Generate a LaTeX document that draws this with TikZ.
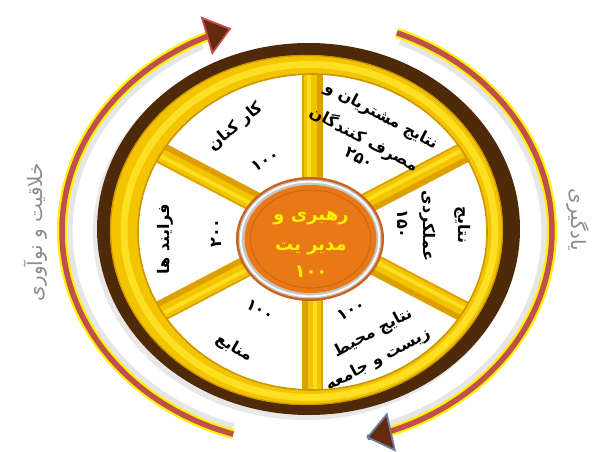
\documentclass[tikz,border=0pt]{standalone}
\usepackage{fontspec}
\usetikzlibrary{arrows.meta}
\TeXXeTstate=1
\newfontfamily\fa[Script=Arabic]{DejaVu Sans}
\definecolor{wbrown}{RGB}{78,42,8}
\definecolor{wgold}{RGB}{243,196,0}
\definecolor{wlight}{RGB}{255,228,40}
\definecolor{wdark}{RGB}{205,150,0}
\definecolor{spokedark}{RGB}{222,160,0}
\definecolor{salmon}{RGB}{192,80,77}
\definecolor{abrown}{RGB}{100,42,12}
\definecolor{slate}{RGB}{110,125,160}
\definecolor{hub}{RGB}{233,120,22}
\definecolor{hubrim}{RGB}{200,100,28}
\definecolor{hubtxt}{RGB}{255,240,0}
\definecolor{txtgray}{RGB}{140,140,140}
\tikzset{
  seg/.style={font=\fa\bfseries\fontsize{16}{18}\selectfont, inner sep=0pt, text=black},
  hubfont/.style={font=\fa\bfseries\fontsize{18}{20}\selectfont, inner sep=0pt, text=hubtxt},
  side/.style={font=\fa\fontsize{20}{22}\selectfont, inner sep=0pt, text=txtgray},
  arcyellow/.style={draw=yellow, line width=10pt},
  arccore/.style={draw=salmon, line width=5.5pt},
  arcshadow/.style={draw=gray, line width=7pt, opacity=.2},
  spokeA/.style={draw=spokedark, line width=21pt},
  spokeB/.style={draw=wgold, line width=13pt},
  spokeC/.style={draw=wlight, line width=4pt, opacity=.8},
}
\begin{document}
\begin{tikzpicture}[x=1pt,y=-1pt]
\useasboundingbox (0,0) rectangle (598,452);
% outer circular arrows
\draw[arcshadow] plot[domain=108:244,samples=120] ({307+238*cos(\x)},{231+206*sin(\x)});
\draw[arcshadow] plot[domain=-67:70,samples=120] ({307+238*cos(\x)},{231+206*sin(\x)});
\draw[arcyellow] plot[domain=107.5:248,samples=120] ({307+245*cos(\x)},{231+213*sin(\x)});
\draw[arccore,-{Triangle[length=26pt,width=40pt,fill=abrown,line width=1.8pt]}] plot[domain=107.5:252,samples=120] ({307+245*cos(\x)},{231+213*sin(\x)});
\draw[arcyellow] plot[domain=-68.5:72,samples=120] ({307+245*cos(\x)},{231+213*sin(\x)});
\draw[arccore] plot[domain=-68.5:72,samples=120] ({307+245*cos(\x)},{231+213*sin(\x)});
\draw[draw=slate,line width=5.5pt,-{Triangle[length=26pt,width=40pt,fill=abrown,line width=1.8pt]}] plot[domain=71:76,samples=20] ({307+245*cos(\x)},{231+213*sin(\x)});
% side labels
\node[side, rotate=90] (creat) at (36,232) {\beginR خلاقیت و نوآوری\endR};
\node[side, rotate=-90] (learn) at (578,220) {\beginR یادگیری\endR};
% wheel shadow and rim
\fill[gray, opacity=.18] (305,233) ellipse [x radius=212, y radius=187];
\fill[wbrown] (308.5,229) ellipse [x radius=211.5, y radius=186];
\fill[white] (312.5,232) ellipse [x radius=176, y radius=160];
% spokes
\foreach \a in {90,270,30,150,210,330}{
  \draw[spokeA] (312,232) -- ({312+182*cos(\a)},{232+165*sin(\a)});
  \draw[spokeB] ({312+2*sin(\a)},{232-2*cos(\a)}) -- ({312+182*cos(\a)+2*sin(\a)},{232+165*sin(\a)-2*cos(\a)});
  \draw[spokeC] ({312+3*sin(\a)},{232-3*cos(\a)}) -- ({312+182*cos(\a)+3*sin(\a)},{232+165*sin(\a)-3*cos(\a)});
}
% segment texts
\node[seg, rotate=40] (kark) at (236,127) {\beginR کار کنان\endR};
\node[seg, rotate=30] (kark100) at (265,161) {۱۰۰};
\node[seg, rotate=-28] (cust1) at (381,116) {\beginR نتایج مشتریان و\endR};
\node[seg, rotate=-28] (cust2) at (364,139) {\beginR مصرف کنندگان\endR};
\node[seg, rotate=-28] (cust3) at (359,158) {۲۵۰};
\node[seg, rotate=-90] (perf1) at (463,225) {\beginR نتایج\endR};
\node[seg, rotate=-90] (perf2) at (428,226) {\beginR عملکردی\endR};
\node[seg, rotate=-90] (perf3) at (403,224) {۱۵۰};
\node[seg, rotate=28] (soc0) at (351,310) {۱۰۰};
\node[seg, rotate=28] (soc1) at (373,333) {\beginR نتایج محیط\endR};
\node[seg, rotate=28] (soc2) at (378,360) {\beginR زیست و جامعه\endR};
\node[seg, rotate=-30] (res0) at (260,310) {۱۰۰};
\node[seg, rotate=-30] (res1) at (234,348) {\beginR منابع\endR};
\node[seg, rotate=90] (proc1) at (165,239) {\beginR فرایند ها\endR};
\node[seg, rotate=90] (proc0) at (216,233) {۲۰۰};
% golden ring
\fill[wgold, even odd rule] (306.5,230) ellipse [x radius=196.5, y radius=175] (312.5,232) ellipse [x radius=174.5, y radius=158];
\draw[wlight, line width=7pt, opacity=.9] (309.5,231) ellipse [x radius=185.5, y radius=166.5];
\draw[wdark, line width=1.6pt] (312.5,232) ellipse [x radius=174.5, y radius=158];
\draw[wdark, line width=1.2pt] (306.5,230) ellipse [x radius=196, y radius=174.5];
% hub
\fill[hubrim] (310,239) ellipse [x radius=74, y radius=62];
\fill[gray!45] (310,239) ellipse [x radius=71.5, y radius=59.5];
\draw[white, line width=1.8pt] (310,239) ellipse [x radius=69.3, y radius=57.3];
\fill[hub] (310.5,239) ellipse [x radius=66, y radius=54];
\draw[hub!85!black, line width=.8pt] (310.5,239) ellipse [x radius=60, y radius=49];
\node[hubfont] (hub1) at (311,218) {\beginR رهبری و\endR};
\node[hubfont] (hub2) at (311,249) {\beginR مدیر یت\endR};
\node[hubfont] (hub3) at (311,272) {۱۰۰};
\end{tikzpicture}
\end{document}
